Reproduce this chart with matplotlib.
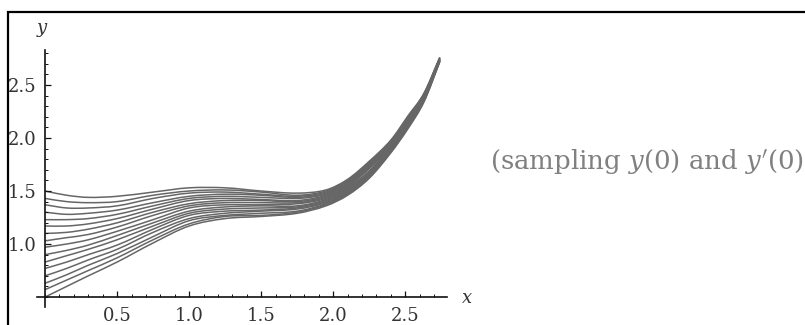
import matplotlib.pyplot as plt
from matplotlib.patches import Rectangle, PathPatch
from matplotlib.path import Path
from matplotlib.ticker import MultipleLocator, FixedLocator

x_vals = [0, 0.15, 0.3, 0.5, 0.75, 1.0, 1.25, 1.5, 1.75, 1.95, 2.1, 2.25, 2.4, 2.52, 2.63, 2.74]

# one curve per sampled start value y(0), top to bottom
curve_01 = [1.50, 1.46, 1.44, 1.45, 1.49, 1.53, 1.53, 1.50, 1.48, 1.51, 1.61, 1.78, 1.98, 2.21, 2.42, 2.76]
curve_02 = [1.43, 1.40, 1.39, 1.40, 1.46, 1.50, 1.51, 1.49, 1.46, 1.50, 1.60, 1.77, 1.97, 2.20, 2.42, 2.76]
curve_03 = [1.37, 1.34, 1.34, 1.36, 1.43, 1.48, 1.49, 1.47, 1.45, 1.49, 1.59, 1.76, 1.96, 2.19, 2.41, 2.75]
curve_04 = [1.30, 1.28, 1.29, 1.32, 1.39, 1.45, 1.47, 1.46, 1.44, 1.48, 1.58, 1.75, 1.96, 2.19, 2.40, 2.75]
curve_05 = [1.23, 1.23, 1.24, 1.28, 1.36, 1.43, 1.45, 1.44, 1.43, 1.47, 1.57, 1.74, 1.95, 2.18, 2.40, 2.75]
curve_06 = [1.17, 1.17, 1.19, 1.24, 1.33, 1.41, 1.43, 1.42, 1.41, 1.46, 1.56, 1.73, 1.94, 2.17, 2.39, 2.75]
curve_07 = [1.10, 1.11, 1.14, 1.20, 1.30, 1.38, 1.41, 1.41, 1.40, 1.45, 1.55, 1.72, 1.93, 2.16, 2.39, 2.74]
curve_08 = [1.03, 1.06, 1.09, 1.16, 1.27, 1.36, 1.39, 1.39, 1.39, 1.44, 1.54, 1.71, 1.92, 2.15, 2.38, 2.74]
curve_09 = [0.97, 1.00, 1.04, 1.12, 1.23, 1.34, 1.37, 1.37, 1.38, 1.43, 1.53, 1.69, 1.92, 2.15, 2.38, 2.74]
curve_10 = [0.90, 0.94, 0.99, 1.08, 1.20, 1.31, 1.35, 1.36, 1.36, 1.42, 1.52, 1.68, 1.91, 2.14, 2.37, 2.74]
curve_11 = [0.83, 0.89, 0.95, 1.04, 1.17, 1.29, 1.33, 1.34, 1.35, 1.41, 1.51, 1.67, 1.90, 2.13, 2.37, 2.73]
curve_12 = [0.77, 0.83, 0.90, 0.99, 1.14, 1.27, 1.31, 1.32, 1.34, 1.40, 1.50, 1.66, 1.89, 2.12, 2.36, 2.73]
curve_13 = [0.70, 0.77, 0.85, 0.95, 1.11, 1.24, 1.29, 1.31, 1.33, 1.39, 1.49, 1.65, 1.88, 2.11, 2.36, 2.73]
curve_14 = [0.63, 0.71, 0.80, 0.91, 1.07, 1.22, 1.27, 1.29, 1.31, 1.38, 1.48, 1.64, 1.88, 2.11, 2.35, 2.73]
curve_15 = [0.57, 0.66, 0.75, 0.87, 1.04, 1.19, 1.26, 1.27, 1.30, 1.37, 1.47, 1.63, 1.87, 2.10, 2.35, 2.72]
curve_16 = [0.50, 0.60, 0.70, 0.83, 1.01, 1.17, 1.24, 1.26, 1.29, 1.36, 1.46, 1.62, 1.86, 2.09, 2.34, 2.72]

curves = [curve_01, curve_02, curve_03, curve_04, curve_05, curve_06, curve_07, curve_08,
          curve_09, curve_10, curve_11, curve_12, curve_13, curve_14, curve_15, curve_16]

x_ticks = [0.5, 1.0, 1.5, 2.0, 2.5]
y_ticks = [1.0, 1.5, 2.0, 2.5]


def smooth_path(xs, ys):
    # cubic bezier through the read points (Hermite tangents), so the line is drawn smooth
    n = len(xs)
    slopes = []
    for i in range(n):
        a = max(i - 1, 0)
        b = min(i + 1, n - 1)
        slopes.append((ys[b] - ys[a]) / (xs[b] - xs[a]))
    verts = [(xs[0], ys[0])]
    codes = [Path.MOVETO]
    for i in range(n - 1):
        h = (xs[i + 1] - xs[i]) / 3
        verts += [(xs[i] + h, ys[i] + slopes[i] * h),
                  (xs[i + 1] - h, ys[i + 1] - slopes[i + 1] * h),
                  (xs[i + 1], ys[i + 1])]
        codes += [Path.CURVE4] * 3
    return Path(verts, codes)


plt.rcParams['mathtext.fontset'] = 'dejavuserif'

fig = plt.figure(figsize=(8.05, 3.25), dpi=100)
ax = fig.add_axes([37 / 805, 1 - 307 / 325, 410 / 805, 257 / 325])

for ys in curves:
    ax.add_patch(PathPatch(smooth_path(x_vals, ys), fill=False, ec='#666666', lw=1.1))

ax.set_xlim(-0.056, 2.79)
ax.set_ylim(0.406, 2.83)

# axes crossing like Mathematica's
ax.spines['left'].set_position(('data', 0))
ax.spines['bottom'].set_position(('data', 0.5))
ax.spines['top'].set_visible(False)
ax.spines['right'].set_visible(False)
for s in ['left', 'bottom']:
    ax.spines[s].set_linewidth(1.2)
    ax.spines[s].set_color('#111111')

ax.xaxis.set_major_locator(FixedLocator(x_ticks))
ax.yaxis.set_major_locator(FixedLocator(y_ticks))
ax.xaxis.set_minor_locator(MultipleLocator(0.1))
ax.yaxis.set_minor_locator(MultipleLocator(0.1))
ax.set_xticklabels(['%.1f' % t for t in x_ticks])
ax.set_yticklabels(['%.1f' % t for t in y_ticks])

ax.tick_params(which='major', direction='in', length=4, width=0.9, color='#111111',
               labelsize=13, labelcolor='#333333', pad=7)
ax.tick_params(which='minor', direction='in', length=2.2, width=0.7, color='#111111')
ax.tick_params(axis='y', pad=6)
for lab in ax.get_xticklabels() + ax.get_yticklabels():
    lab.set_family('DejaVu Serif')

# axis labels
fig.text(42 / 805, 1 - 28 / 325, 'y', fontsize=13, family='DejaVu Serif', style='italic',
         color='#333333', ha='center', va='center')
fig.text(467 / 805, 1 - 298 / 325, 'x', fontsize=13, family='DejaVu Serif', style='italic',
         color='#333333', ha='center', va='center')

# caption on the right, runs off the edge like the original
fig.text(490 / 805, 1 - 162 / 325, r"(sampling $y$(0) and $y'$(0))", fontsize=18.7,
         family='DejaVu Serif', color='#808080', ha='left', va='center')

# frame around the figure (only top and left visible)
fig.add_artist(Rectangle((8 / 805, -0.05), 1.2, 1 - 12 / 325 + 0.05, transform=fig.transFigure,
                         fill=False, lw=1.6, ec='black'))

fig.savefig('out.png', dpi=100)
